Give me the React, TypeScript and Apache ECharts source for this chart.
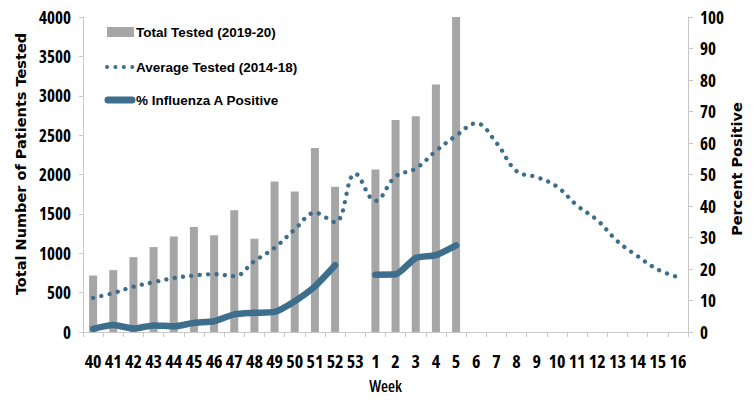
import React, { useEffect, useRef } from "react";
import * as echarts from "echarts";

const weeks = ["40","41","42","43","44","45","46","47","48","49","50","51","52","53","1","2","3","4","5","6","7","8","9","10","11","12","13","14","15","16"];
const totalTested = [717,786,950,1078,1214,1332,1230,1545,1185,1910,1783,2335,1845,null,2062,2692,2740,3142,4000,null,null,null,null,null,null,null,null,null,null,null];
const averageTested = [434,495,575,633,684,717,734,709,899,1069,1302,1513,1394,2010,1665,1975,2076,2298,2492,2650,2402,2042,1966,1846,1606,1420,1153,963,794,696];
const fluAPositive = [1.0,2.2,1.1,2.1,1.8,2.9,3.4,5.6,6.1,6.4,9.8,14.5,21.2,null,18.2,18.3,23.5,24.4,27.5,null,null,null,null,null,null,null,null,null,null,null];
const legendNames = ["Total Tested (2019-20)", "Average Tested (2014-18)", "% Influenza A Positive"];
const leftTitle = "Total Number of Patients Tested";
const rightTitle = "Percent Positive";

const NARROW = "'Open Sans', sans-serif";
const LEGEND_FONT = "'Liberation Sans', sans-serif";
const WIDE = "'DejaVu Sans', Verdana, sans-serif";
const LINE = "#3d6e8b";
const BAR = "#a6a6a6";
const AXIS = "#c8c8c8";

export default function App() {
  const ref = useRef<HTMLDivElement>(null);
  useEffect(() => {
    if (!ref.current) return;
    const chart = echarts.init(ref.current, null, { renderer: "svg" });
    const legendText = (i: number, y: number) => ({
      type: "text",
      x: 136,
      y,
      style: {
        text: legendNames[i],
        fontFamily: LEGEND_FONT,
        fontWeight: "bold",
        fontSize: 13.5,
        fill: "#000",
        verticalAlign: "middle",
        align: "left",
      },
    });
    const title = (text: string, x: number, y: number) => ({
      type: "text",
      x,
      y,
      rotation: Math.PI / 2,
      style: {
        text,
        fontFamily: WIDE,
        fontWeight: "bold",
        fontSize: 14.5,
        fill: "#000",
        align: "center",
        verticalAlign: "middle",
      },
    });
    chart.setOption({
      animation: false,
      backgroundColor: "#ffffff",
      grid: { left: 83, right: 67, top: 17, bottom: 68, containLabel: false, outerBoundsMode: "none" },
      graphic: [
        { type: "rect", shape: { x: 107, y: 27, width: 27, height: 10 }, style: { fill: BAR } },
        legendText(0, 32),
        {
          type: "line",
          shape: { x1: 107, y1: 67, x2: 134, y2: 67 },
          style: { stroke: LINE, lineWidth: 4, lineDash: [0.1, 8.3], lineCap: "round" },
        },
        legendText(1, 67),
        {
          type: "line",
          shape: { x1: 108, y1: 100, x2: 132, y2: 100 },
          style: { stroke: LINE, lineWidth: 7, lineCap: "round" },
        },
        legendText(2, 100),
        title(leftTitle, 21, 164),
        title(rightTitle, 737, 169),
      ],
      xAxis: {
        type: "category",
        data: weeks,
        name: "Week",
        nameLocation: "middle",
        nameGap: 46,
        nameTextStyle: { fontFamily: NARROW, fontWeight: 600, fontSize: 16, color: "#000" },
        axisLine: { lineStyle: { color: AXIS } },
        axisTick: { show: true, length: 5, lineStyle: { color: AXIS } },
        axisLabel: { interval: 0, margin: 20, fontFamily: NARROW, fontWeight: "bold", fontSize: 18, color: "#000" },
      },
      yAxis: [
        {
          type: "value",
          min: 0,
          max: 4000,
          interval: 500,
          axisLine: { show: true, lineStyle: { color: AXIS } },
          axisTick: { show: true, length: 4, lineStyle: { color: AXIS } },
          axisLabel: { margin: 12, fontFamily: NARROW, fontWeight: "bold", fontSize: 17, color: "#000", formatter: (v: number) => String(v) },
          splitLine: { show: false },
        },
        {
          type: "value",
          min: 0,
          max: 100,
          interval: 10,
          axisLine: { show: true, lineStyle: { color: AXIS } },
          axisTick: { show: true, length: 5, lineStyle: { color: AXIS } },
          axisLabel: { margin: 12, fontFamily: NARROW, fontWeight: "bold", fontSize: 17, color: "#000", formatter: (v: number) => String(v) },
          splitLine: { show: false },
        },
      ],
      series: [
        {
          name: legendNames[0],
          type: "bar",
          data: totalTested,
          barWidth: 8,
          itemStyle: { color: BAR },
          yAxisIndex: 0,
        },
        {
          name: legendNames[1],
          type: "line",
          data: averageTested,
          smooth: 0.4,
          symbol: "none",
          yAxisIndex: 0,
          itemStyle: { color: LINE },
          lineStyle: { color: LINE, width: 4.3, type: [0.1, 8.3], cap: "round" },
        },
        {
          name: legendNames[2],
          type: "line",
          data: fluAPositive,
          smooth: 0.2,
          symbol: "none",
          connectNulls: false,
          yAxisIndex: 1,
          itemStyle: { color: LINE },
          lineStyle: { color: LINE, width: 6.5, cap: "round", join: "round" },
        },
      ],
    });
    return () => chart.dispose();
  }, []);
  return (
    <>
      <style>{`svg text[style*="Open Sans"], svg text[style*="Liberation"] { font-stretch: 75% !important; }`}</style>
      <div ref={ref} style={{ width: 755, height: 400, position: "absolute", left: 0, top: 0 }} />
    </>
  );
}
